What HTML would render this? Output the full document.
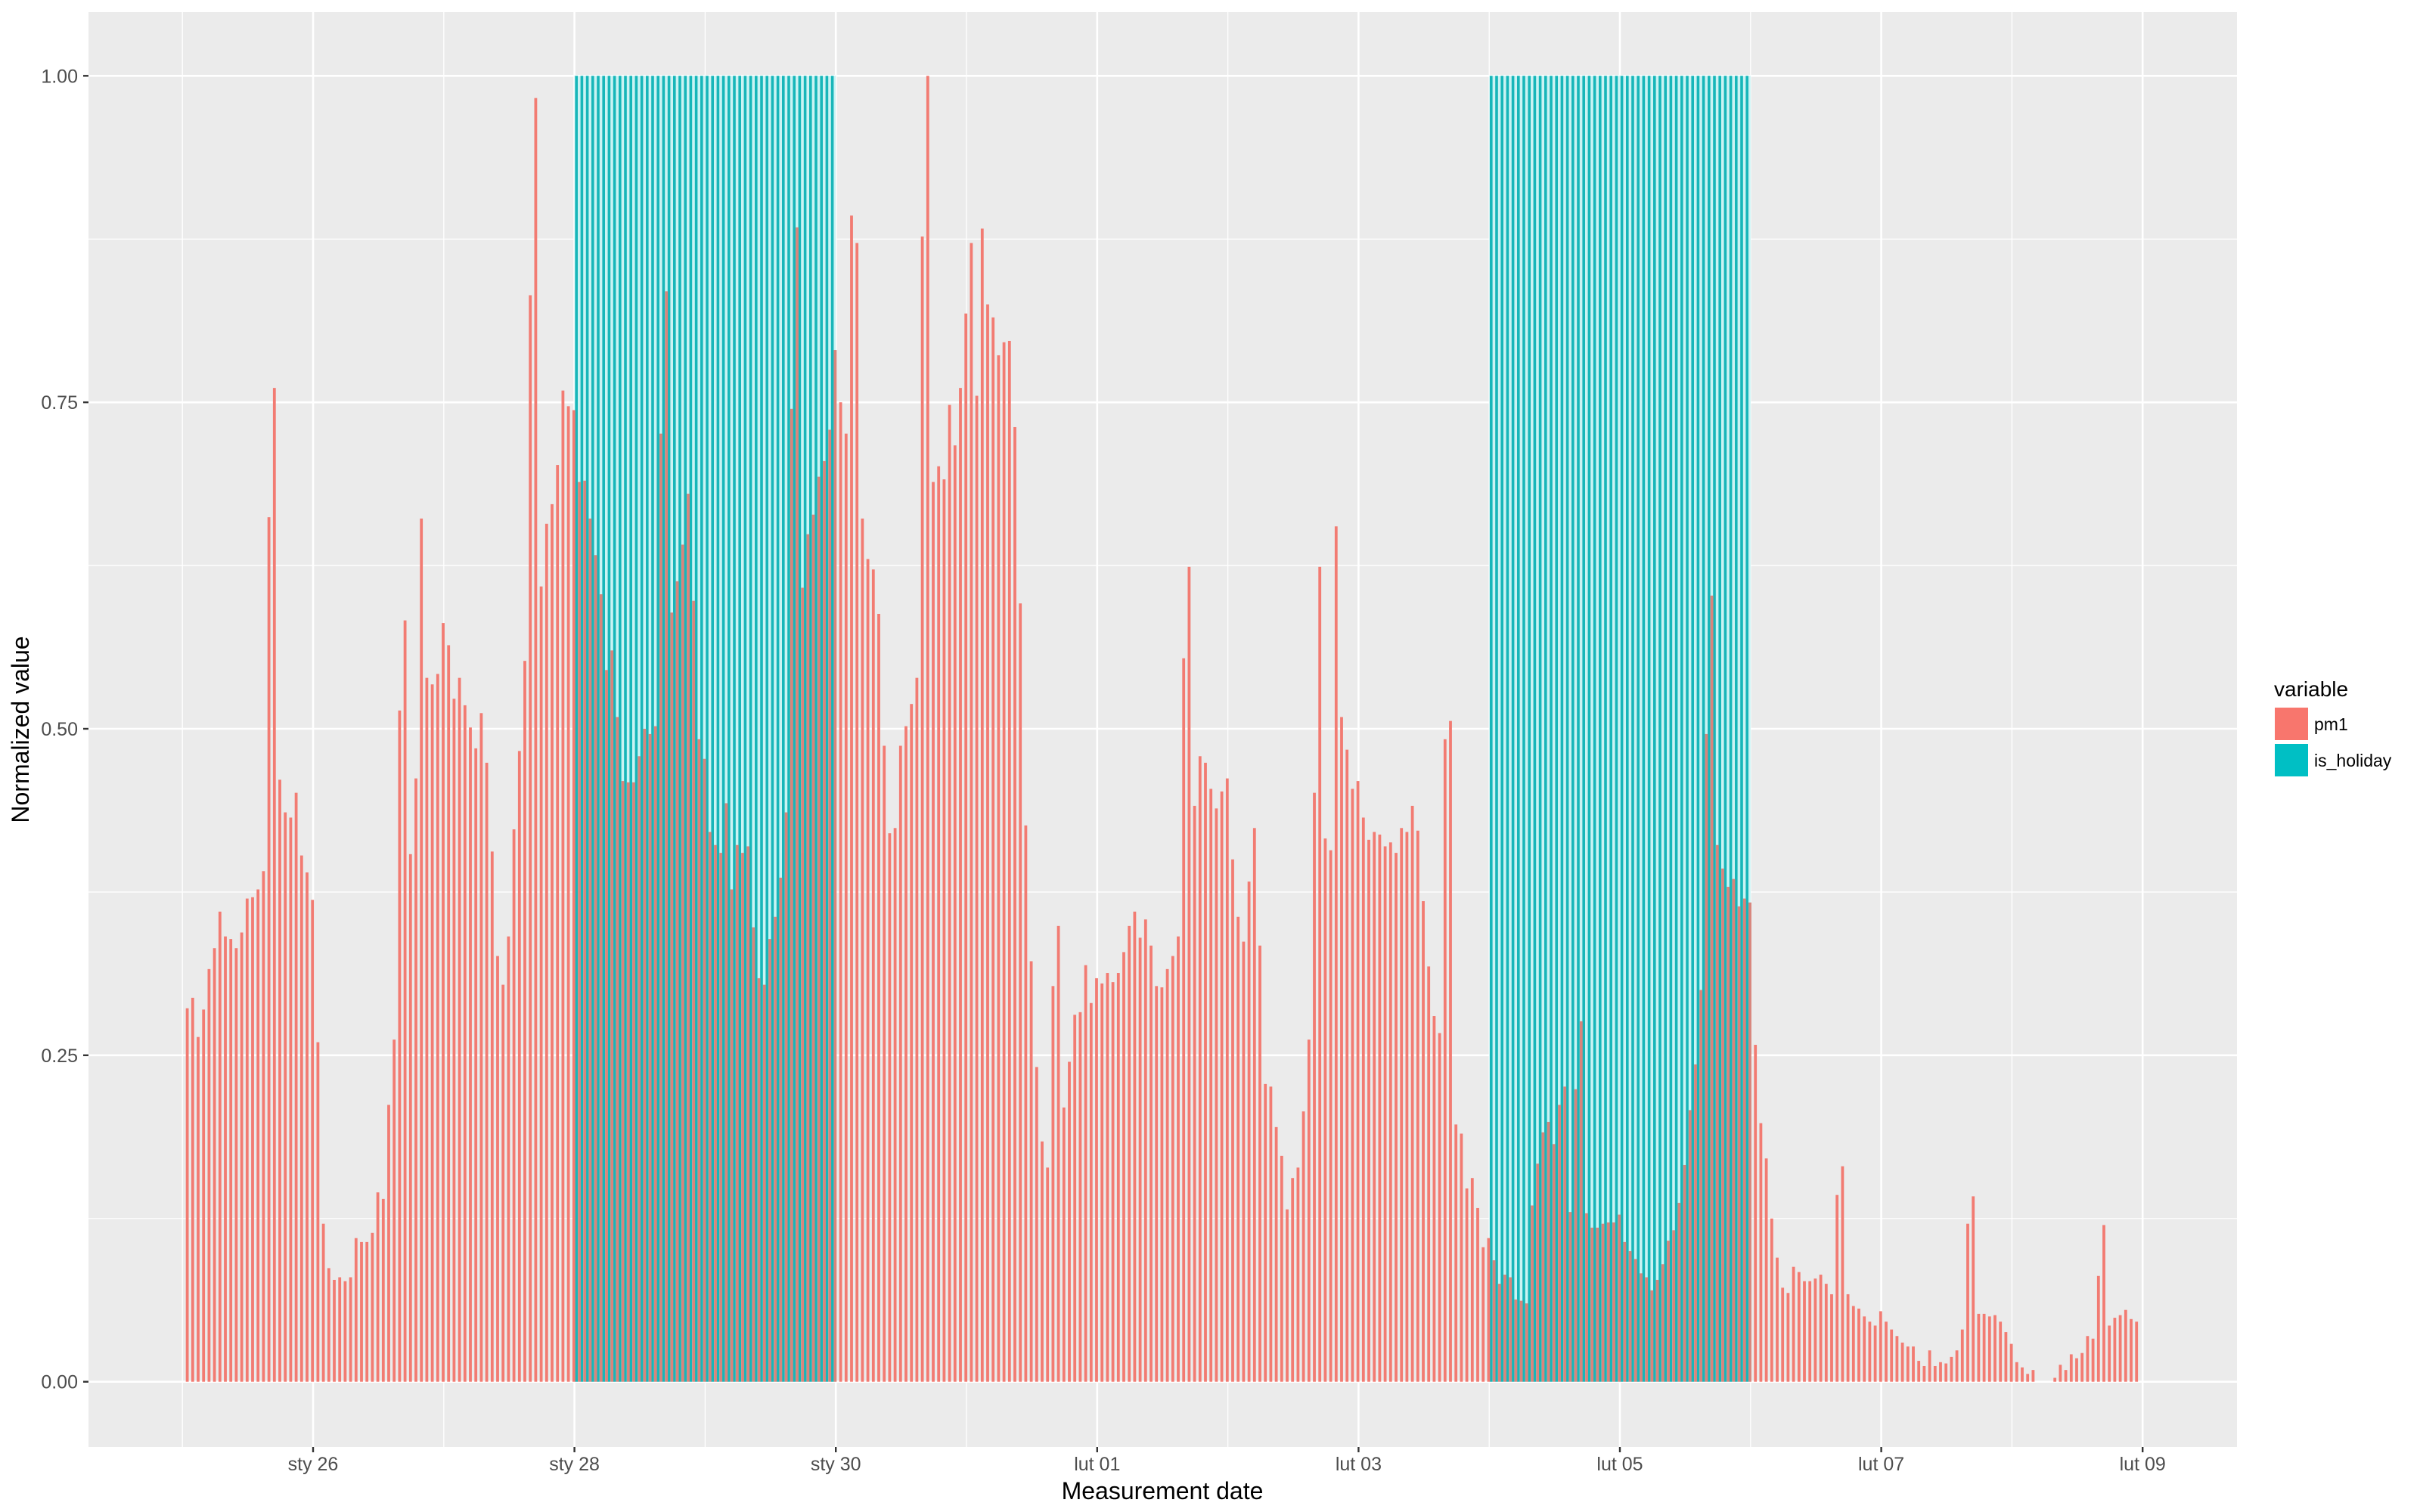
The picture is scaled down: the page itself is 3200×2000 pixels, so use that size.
<!DOCTYPE html>
<html><head><meta charset="utf-8">
<style>
html,body{margin:0;padding:0;background:#fff;}
svg{display:block;font-family:"Liberation Sans",Arial,sans-serif;}
</style></head>
<body>
<svg id="chart" width="3200" height="2000" viewBox="0 0 3200 2000" xmlns="http://www.w3.org/2000/svg">
<rect x="117" y="16" width="2841" height="1898" fill="#EBEBEB"/>
<g id="grid"></g>
<g id="bars"></g>
<g id="axes"></g>
<text transform="translate(38,965) rotate(-90)" text-anchor="middle" font-size="32" fill="#000">Normalized value</text>
<text x="1537" y="1983" text-anchor="middle" font-size="32" fill="#000">Measurement date</text>
<g>
<text x="3007" y="921" font-size="28" fill="#000">variable</text>
<rect x="3008" y="936" width="44" height="43" fill="#F8766D"/>
<text x="3060" y="966" font-size="23" fill="#000">pm1</text>
<rect x="3008" y="984" width="44" height="43" fill="#00BFC4"/>
<text x="3060" y="1014" font-size="23" fill="#000">is_holiday</text>
</g>
</svg>
<script>
const pm1 = [
0.286,0.294,0.264,0.285,0.316,0.332,0.360,0.341,0.339,0.332,0.344,0.370,0.371,0.377,0.391,0.662,0.761,0.461,0.436,0.432,0.451,0.403,0.390,0.369,
0.260,0.121,0.087,0.078,0.080,0.077,0.080,0.110,0.107,0.107,0.114,0.145,0.140,0.212,0.262,0.514,0.583,0.404,0.462,0.661,0.539,0.534,0.542,0.581,
0.564,0.523,0.539,0.518,0.501,0.485,0.512,0.474,0.406,0.326,0.304,0.341,0.423,0.483,0.552,0.832,0.983,0.609,0.657,0.672,0.702,0.759,0.747,0.744,
0.689,0.690,0.661,0.633,0.603,0.545,0.560,0.509,0.460,0.459,0.459,0.479,0.500,0.496,0.502,0.726,0.835,0.589,0.613,0.641,0.680,0.598,0.492,0.477,
0.421,0.411,0.405,0.443,0.377,0.411,0.405,0.410,0.348,0.309,0.304,0.339,0.356,0.386,0.436,0.745,0.884,0.608,0.649,0.664,0.693,0.705,0.729,0.790,
0.750,0.726,0.893,0.872,0.661,0.630,0.622,0.588,0.487,0.420,0.424,0.487,0.502,0.519,0.539,0.877,1.000,0.689,0.701,0.691,0.748,0.717,0.761,0.818,
0.872,0.755,0.883,0.825,0.815,0.786,0.796,0.797,0.731,0.596,0.426,0.322,0.241,0.184,0.164,0.303,0.349,0.210,0.245,0.281,0.283,0.319,0.290,0.309,
0.305,0.313,0.306,0.313,0.329,0.349,0.360,0.340,0.354,0.334,0.303,0.302,0.316,0.326,0.341,0.554,0.624,0.441,0.479,0.474,0.454,0.439,0.452,0.462,
0.400,0.356,0.337,0.383,0.424,0.334,0.228,0.226,0.195,0.173,0.132,0.156,0.164,0.207,0.262,0.451,0.624,0.416,0.407,0.655,0.509,0.484,0.454,0.460,
0.432,0.415,0.421,0.419,0.410,0.413,0.405,0.424,0.421,0.441,0.422,0.368,0.318,0.280,0.267,0.492,0.506,0.197,0.190,0.148,0.156,0.133,0.103,0.110,
0.093,0.075,0.082,0.080,0.063,0.062,0.060,0.135,0.167,0.191,0.199,0.182,0.212,0.226,0.130,0.224,0.276,0.129,0.118,0.118,0.121,0.122,0.122,0.128,
0.107,0.100,0.094,0.083,0.080,0.070,0.078,0.090,0.108,0.116,0.137,0.166,0.208,0.243,0.300,0.496,0.602,0.411,0.393,0.379,0.385,0.364,0.370,0.367,
0.258,0.198,0.171,0.125,0.095,0.072,0.068,0.088,0.084,0.077,0.077,0.079,0.082,0.075,0.067,0.143,0.165,0.067,0.058,0.056,0.050,0.046,0.043,0.054,
0.046,0.040,0.035,0.030,0.027,0.027,0.016,0.012,0.024,0.012,0.015,0.014,0.019,0.024,0.040,0.121,0.142,0.052,0.052,0.050,0.051,0.046,0.038,0.029,
0.015,0.011,0.006,0.009,0.000,0.000,0.000,0.003,0.013,0.009,0.021,0.018,0.022,0.035,0.033,0.081,0.120,0.043,0.049,0.051,0.055,0.048,0.046
];
// is_holiday per day starting sty 25 (value 1 for every hour of that day)
const holidayByDay = [0,0,0,1,1,0,0,0,0,0,1,1,0,0,0];
const yTickValues = [0, 0.25, 0.5, 0.75, 1];
const yTickLabels = ["0.00","0.25","0.50","0.75","1.00"];
const xTickDays = [1,3,5,7,9,11,13,15];
const xTickLabels = ["sty 26","sty 28","sty 30","lut 01","lut 03","lut 05","lut 07","lut 09"];
const xMinorDays = [0,2,4,6,8,10,12,14];

const NS = "http://www.w3.org/2000/svg";
const X0 = 241.2, DAY = 172.8, HOUR = DAY/24;
const Y0 = 1827.7, Y1 = 100.3;
function xDay(d){ return X0 + d*DAY; }
function xHour(h){ return X0 + h*HOUR; }
function yVal(v){ return Y0 - v*(Y0-Y1); }
function mk(tag, attrs, parent){
  const e = document.createElementNS(NS, tag);
  for (const k in attrs) e.setAttribute(k, attrs[k]);
  parent.appendChild(e);
  return e;
}
const grid = document.getElementById('grid');
const bars = document.getElementById('bars');
const axes = document.getElementById('axes');

// minor y gridlines
for (let i = 0; i < yTickValues.length-1; i++){
  const v = (yTickValues[i]+yTickValues[i+1])/2;
  const l = mk('line',{x1:117,x2:2958,y1:yVal(v),y2:yVal(v),stroke:'#fff','stroke-width':1.3},grid);
  
  
}
xMinorDays.forEach(d=>{
  const l = mk('line',{x1:xDay(d),x2:xDay(d),y1:16,y2:1914,stroke:'#fff','stroke-width':1.3},grid);
  
  
});
yTickValues.forEach((v,i)=>{
  const l = mk('line',{x1:117,x2:2958,y1:yVal(v),y2:yVal(v),stroke:'#fff','stroke-width':2.6},grid);
  
  
  const t = mk('line',{x1:110,x2:117,y1:yVal(v),y2:yVal(v),stroke:'#333','stroke-width':2.4},axes);
  
  
  const tx = mk('text',{x:103,y:yVal(v)+9,'text-anchor':'end','font-size':25,fill:'#4d4d4d'},axes);
  tx.textContent = yTickLabels[i];
  
  
});
xTickDays.forEach((d,i)=>{
  const l = mk('line',{x1:xDay(d),x2:xDay(d),y1:16,y2:1914,stroke:'#fff','stroke-width':2.6},grid);
  
  
  const t = mk('line',{x1:xDay(d),x2:xDay(d),y1:1914,y2:1921,stroke:'#333','stroke-width':2.4},axes);
  
  
  const tx = mk('text',{x:xDay(d),y:1945,'text-anchor':'middle','font-size':25,fill:'#4d4d4d'},axes);
  tx.textContent = xTickLabels[i];
  
  
});

// holiday bars
for (let h = 0; h < holidayByDay.length*24; h++){
  const hv = holidayByDay[Math.floor(h/24)];
  if (!hv) continue;
  const t = xHour(h);
  const bg = mk('rect',{x:t,y:yVal(hv),width:HOUR,height:yVal(0)-yVal(hv),fill:'#c9f3f3'},bars);
  
  
  const r = mk('rect',{x:t+0.8,y:yVal(hv),width:3.6,height:yVal(0)-yVal(hv),fill:'#17b6b9'},bars);
  
  
}
// pm1 bars
pm1.forEach((v,h)=>{
  const t = xHour(h);
  const hol = holidayByDay[Math.floor(h/24)];
  const r = mk('rect',{x:t+4.5,y:yVal(v),width:3.8,height:Math.max(0,yVal(0)-yVal(v)),fill: hol ? '#d8857c' : '#F27B72'},bars);
  
  
});
</script>
</body></html>
